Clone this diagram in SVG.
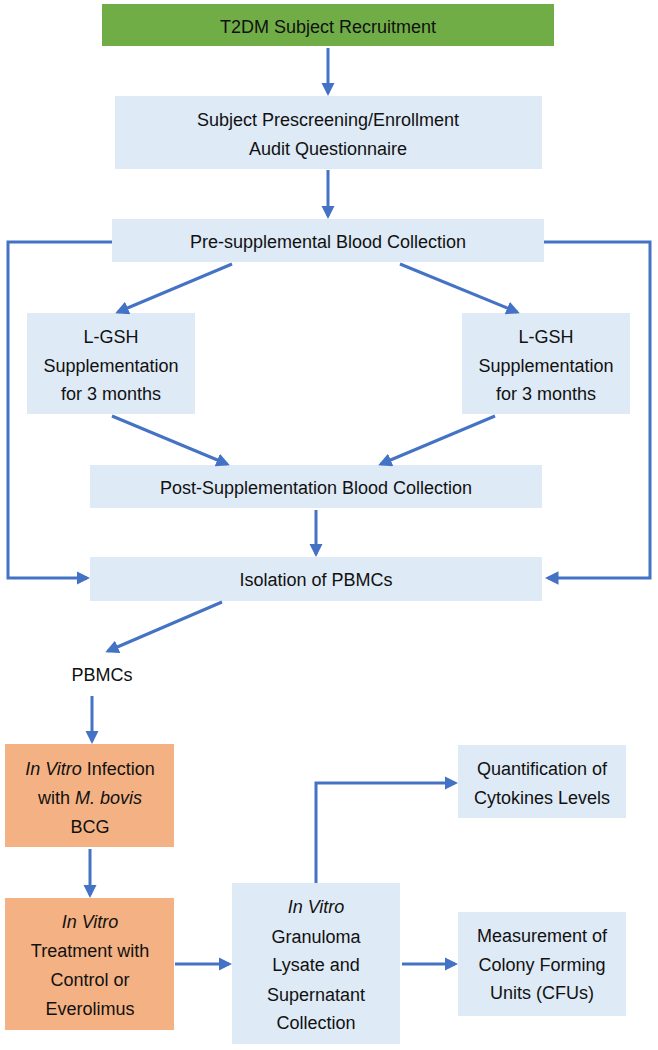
<svg xmlns="http://www.w3.org/2000/svg" width="658" height="1050" viewBox="0 0 658 1050">
<style>
.b{fill:#DEEAF6}
.g{fill:#70AD47}
.o{fill:#F4B183}
text{font-family:"Liberation Sans",Arial,sans-serif;font-size:18px;fill:#111;text-anchor:middle}
.i{font-style:italic}
.c{fill:none;stroke:#4472C4;stroke-width:3;marker-end:url(#ah)}
</style>
<defs>
<marker id="ah" markerWidth="4.5" markerHeight="4.5" refX="3.5" refY="2.25" orient="auto" markerUnits="strokeWidth">
<path d="M0,0 L4.5,2.25 L0,4.5 z" fill="#4472C4"/>
</marker>
</defs>
<rect width="658" height="1050" fill="#fff"/>
<g id="n1"><rect class="g" x="102" y="4" width="452" height="42"/><text x="328" y="33">T2DM Subject Recruitment</text></g>
<g id="n2"><rect class="b" x="115" y="96" width="427" height="73"/><text x="328" y="126">Subject Prescreening/Enrollment</text><text x="328" y="155">Audit Questionnaire</text></g>
<g id="n3"><rect class="b" x="112" y="219" width="432" height="43"/><text x="328" y="248">Pre-supplemental Blood Collection</text></g>
<g id="n4"><rect class="b" x="27" y="313" width="168" height="101"/><text x="111" y="343">L-GSH</text><text x="111" y="372">Supplementation</text><text x="111" y="400">for 3 months</text></g>
<g id="n5"><rect class="b" x="462" y="313" width="168" height="101"/><text x="546" y="343">L-GSH</text><text x="546" y="372">Supplementation</text><text x="546" y="400">for 3 months</text></g>
<g id="n6"><rect class="b" x="90" y="465" width="452" height="43"/><text x="316" y="494">Post-Supplementation Blood Collection</text></g>
<g id="n7"><rect class="b" x="90" y="557" width="452" height="44"/><text x="316" y="586">Isolation of PBMCs</text></g>
<g id="n8"><text x="102" y="681">PBMCs</text></g>
<g id="n9"><rect class="o" x="5" y="744" width="169" height="103"/><text x="90" y="775"><tspan class="i">In Vitro</tspan> Infection</text><text x="90" y="804">with <tspan class="i">M. bovis</tspan></text><text x="90" y="833">BCG</text></g>
<g id="n10"><rect class="o" x="5" y="898" width="169" height="132"/><text x="90" y="928" class="i">In Vitro</text><text x="90" y="957">Treatment with</text><text x="90" y="986">Control or</text><text x="90" y="1015">Everolimus</text></g>
<g id="n11"><rect class="b" x="232" y="883" width="168" height="161"/><text x="316" y="913" class="i">In Vitro</text><text x="316" y="943">Granuloma</text><text x="316" y="971">Lysate and</text><text x="316" y="1001">Supernatant</text><text x="316" y="1029">Collection</text></g>
<g id="n12"><rect class="b" x="458" y="745" width="168" height="73"/><text x="542" y="775">Quantification of</text><text x="542" y="804">Cytokines Levels</text></g>
<g id="n13"><rect class="b" x="458" y="912" width="168" height="104"/><text x="542" y="942">Measurement of</text><text x="542" y="971">Colony Forming</text><text x="542" y="999">Units (CFUs)</text></g>
<g id="connectors">
<path class="c" d="M328,48 V93"/>
<path class="c" d="M328,170 V216"/>
<path class="c" d="M112,242 H8 V578 H87"/>
<path class="c" d="M544,242 H650 V578 H548"/>
<path class="c" d="M232,264 L118,312"/>
<path class="c" d="M400,264 L517,312"/>
<path class="c" d="M112,416 L227,464"/>
<path class="c" d="M495,416 L381,464"/>
<path class="c" d="M316,510 V554"/>
<path class="c" d="M222,602 L108,651"/>
<path class="c" d="M92,696 V741"/>
<path class="c" d="M90,849 V895"/>
<path class="c" d="M175,964 H229"/>
<path class="c" d="M402,964 H455"/>
<path class="c" d="M316,883 V783 H455"/>
</g>
</svg>
